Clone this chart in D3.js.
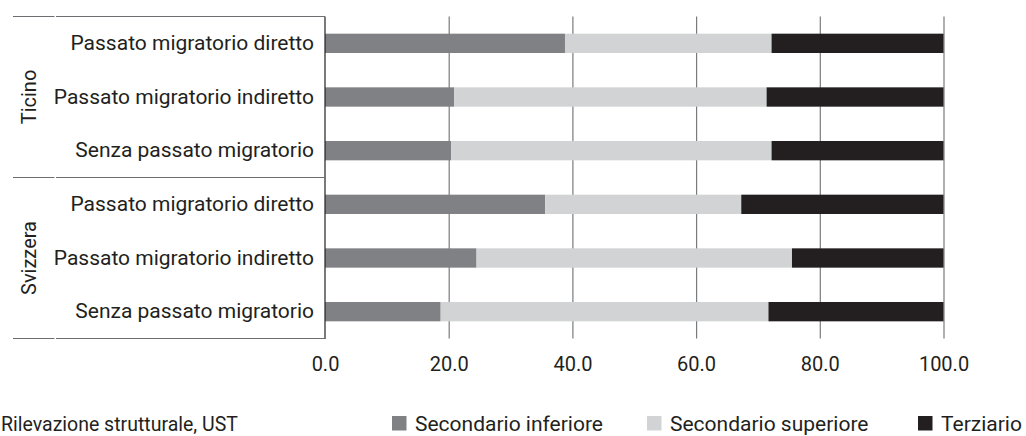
<!DOCTYPE html>
<html>
<head>
<meta charset="utf-8">
<script src="https://cdn.jsdelivr.net/npm/d3@7"></script>
<style>
  html, body { margin: 0; padding: 0; background: #fff; }
  svg { display: block; }
  text { font-family: Roboto, "Noto Sans", sans-serif; fill: #231f20; }
</style>
</head>
<body>
<svg id="chart" width="1026" height="436"></svg>
<script>
// ---- data ----
const groups = ["Ticino", "Svizzera"];
const categories = ["Passato migratorio diretto", "Passato migratorio indiretto", "Senza passato migratorio"];
const seriesNames = ["Secondario inferiore", "Secondario superiore", "Terziario"];
const inferiore = [38.8, 20.9, 20.4, 35.6, 24.5, 18.7];
const superiore = [33.4, 50.5, 51.8, 31.7, 51.0, 53.0];
const terziario = [27.8, 28.6, 27.8, 32.7, 24.5, 28.3];
const xTicks = [0, 20, 40, 60, 80, 100];
const sourceText = "Rilevazione strutturale, UST";

// ---- build rows ----
const rows = [];
groups.forEach((g, gi) => {
  categories.forEach((c, ci) => {
    const i = gi * categories.length + ci;
    rows.push({ id: g + "|" + c, group: g, cat: c,
      "Secondario inferiore": inferiore[i],
      "Secondario superiore": superiore[i],
      "Terziario": terziario[i] });
  });
});

const colors = d3.scaleOrdinal().domain(seriesNames).range(["#808184", "#d1d3d4", "#231f20"]);

const svg = d3.select("#chart");
const plot = { left: 325, right: 943.5, top: 16.5, bottom: 338.5 };

const x = d3.scaleLinear().domain([0, 100]).range([plot.left, plot.right]);
const y = d3.scaleBand().domain(rows.map(r => r.id)).range([plot.top, plot.bottom]).paddingInner(0.64).paddingOuter(0.32);

// gridlines
const grid = svg.append("g").attr("transform", `translate(0,${plot.bottom})`)
  .call(d3.axisBottom(x).tickValues(xTicks.filter(v => v > 0)).tickSize(-(plot.bottom - plot.top)).tickFormat(""));
grid.select(".domain").remove();
grid.selectAll(".tick line").attr("stroke", "#7a7b7e").attr("stroke-width", 1.2);

// stacked bars
const stack = d3.stack().keys(seriesNames)(rows);
svg.append("g").selectAll("g").data(stack).join("g")
  .attr("fill", d => colors(d.key))
  .selectAll("rect").data(d => d).join("rect")
  .attr("x", d => x(d[0]))
  .attr("width", d => x(d[1]) - x(d[0]))
  .attr("y", d => y(d.data.id))
  .attr("height", y.bandwidth());

// x-axis labels
const xAxis = svg.append("g").attr("transform", `translate(0,${plot.bottom})`)
  .call(d3.axisBottom(x).tickValues(xTicks).tickSize(0).tickPadding(18).tickFormat(d3.format(".1f")));
xAxis.select(".domain").remove();
xAxis.selectAll("text").attr("font-size", 20).attr("font-family", "Roboto").attr("fill", "#231f20");

// y-axis category labels
const yAxis = svg.append("g").attr("transform", `translate(${plot.left},0)`)
  .call(d3.axisLeft(y).tickSize(0).tickPadding(11).tickFormat(id => id.split("|")[1]));
yAxis.select(".domain").remove();
yAxis.selectAll("text").attr("font-size", 21).attr("font-family", "Roboto").attr("fill", "#231f20");

// vertical axis line at 0
svg.append("line").attr("x1", x(0)).attr("x2", x(0)).attr("y1", plot.top).attr("y2", plot.bottom + 0.5)
  .attr("stroke", "#231f20").attr("stroke-width", 1.2);

// group separator lines
const boundaries = [0, 1, 2].map(k => plot.top + k * (plot.bottom - plot.top) / 2);
boundaries.forEach(by => {
  svg.append("line").attr("x1", 13).attr("x2", 54.5).attr("y1", by).attr("y2", by)
    .attr("stroke", "#6d6e71").attr("stroke-width", 1.2);
  svg.append("line").attr("x1", 56).attr("x2", x(0)).attr("y1", by).attr("y2", by)
    .attr("stroke", "#6d6e71").attr("stroke-width", 1.2);
});

// group labels (rotated)
groups.forEach((g, gi) => {
  const cy = (boundaries[gi] + boundaries[gi + 1]) / 2;
  svg.append("text").attr("transform", `translate(36,${cy}) rotate(-90)`)
    .attr("text-anchor", "middle").attr("font-size", 20).text(g);
});

// source
svg.append("text").attr("x", 1).attr("y", 430.5).attr("font-size", 19.5).text(sourceText);

// legend
const legendX = [392, 647, 918];
const legend = svg.append("g").selectAll("g").data(seriesNames).join("g")
  .attr("transform", (d, i) => `translate(${legendX[i]},416)`);
legend.append("rect").attr("width", 14.5).attr("height", 14.5).attr("fill", d => colors(d));
legend.append("text").attr("x", 23).attr("y", 14.6).attr("font-size", 21).text(d => d);
</script>
</body>
</html>
